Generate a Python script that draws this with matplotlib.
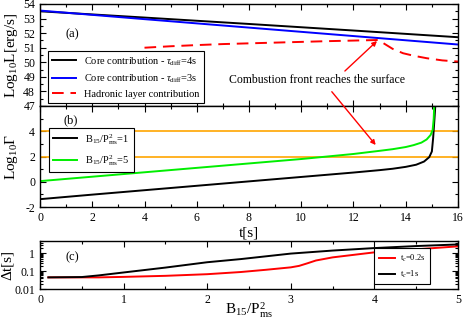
import matplotlib
matplotlib.use("Agg")
import matplotlib.pyplot as plt
from matplotlib.ticker import MultipleLocator, FixedLocator, FixedFormatter

plt.rcParams['font.family'] = ['Liberation Serif', 'DejaVu Serif']
plt.rcParams['mathtext.fontset'] = 'custom'
plt.rcParams['mathtext.rm'] = 'Liberation Serif'
plt.rcParams['mathtext.it'] = 'Liberation Serif:italic'
plt.rcParams['mathtext.bf'] = 'Liberation Serif:bold'

# ---------------- data ----------------
# panel (a)
t_core = [0, 4, 8, 12, 16]
logL_core4 = [53.5, 53.07, 52.63, 52.18, 51.72]
logL_core3 = [53.55, 52.96, 52.38, 51.8, 51.22]
t_had = [4, 5, 6, 7, 8, 9, 10, 11, 12, 12.95, 13.2, 13.5, 13.9, 14.3, 14.8, 15.4, 16]
logL_had = [51.0, 51.1, 51.18, 51.25, 51.3, 51.35, 51.4, 51.45, 51.49, 51.53,
            51.25, 50.92, 50.62, 50.45, 50.28, 50.13, 50.05]

# panel (b)
t_b1 = [0, 2, 4, 6, 8, 10, 12, 13, 13.5, 14, 14.4, 14.7, 14.9, 15.0, 15.05, 15.1, 15.13]
logG_b1 = [-1.38, -1.02, -0.67, -0.32, 0.03, 0.38, 0.73, 0.92, 1.03, 1.18, 1.35,
           1.6, 1.95, 2.4, 3.5, 5.0, 6.0]
t_b5 = [0, 2, 4, 6, 8, 10, 12, 13, 13.5, 14, 14.3, 14.6, 14.8, 14.95, 15.03, 15.07, 15.09]
logG_b5 = [0.05, 0.4, 0.75, 1.1, 1.45, 1.8, 2.2, 2.45, 2.58, 2.75, 2.9, 3.1, 3.35,
           3.7, 4.1, 5.0, 6.0]
logG_levels = [2, 4]

# panel (c)
B_red = [0.1, 0.5, 0.7, 1.0, 1.5, 2.0, 2.4, 2.7, 3.0, 3.1, 3.2, 3.3, 3.5, 4.0, 4.5, 5.0]
dt_red = [0.045, 0.045, 0.045, 0.048, 0.055, 0.068, 0.09, 0.12, 0.165, 0.2, 0.28,
          0.4, 0.6, 1.15, 1.7, 2.5]
B_blk = [0.1, 0.5, 0.7, 1.0, 1.5, 2.0, 2.4, 3.0, 3.5, 4.0, 4.5, 5.0]
dt_blk = [0.045, 0.047, 0.058, 0.085, 0.16, 0.32, 0.48, 0.98, 1.45, 2.0, 2.6, 3.2]

yt_c = [0.01, 0.1, 1]
yt_c_labels = ['0.01', '0.1', '1']

# ---------------- figure ----------------
W, H = 464, 327
fig = plt.figure(figsize=(W / 100, H / 100), dpi=100)

def box(x0, y0, x1, y1):
    return [x0 / W, 1 - y1 / H, (x1 - x0) / W, (y1 - y0) / H]

ax_a = fig.add_axes(box(40, 4, 458, 106))
ax_b = fig.add_axes(box(40, 106, 458, 207))
ax_c = fig.add_axes(box(40, 241, 458, 289))

tick_fs = 8.5
lab_fs = 11
leg_fs = 7.5

for ax in (ax_a, ax_b, ax_c):
    ax.tick_params(which='both', direction='in', top=True, right=True,
                   labelsize=tick_fs, width=0.8)
    ax.tick_params(which='major', length=4)
    ax.tick_params(which='minor', length=2.5)
    for s in ax.spines.values():
        s.set_linewidth(1.0)

# (a)
ax_a.plot(t_core, logL_core4, color='black', lw=1.4, label=r'Core contribution - $\tau_{\mathrm{diff}}$=4s')
ax_a.plot(t_core, logL_core3, color='blue', lw=1.4, label=r'Core contribution - $\tau_{\mathrm{diff}}$=3s')
ax_a.plot(t_had, logL_had, color='red', lw=1.4, ls=(0, (6, 3.5)), label='Hadronic layer contribution')
ax_a.set_xlim(0, 16)
ax_a.set_ylim(47, 54)
ax_a.xaxis.set_major_locator(MultipleLocator(2))
ax_a.xaxis.set_minor_locator(MultipleLocator(1))
ax_a.yaxis.set_major_locator(MultipleLocator(1))
ax_a.yaxis.set_minor_locator(MultipleLocator(0.5))
ax_a.tick_params(labelbottom=False)
ax_a.set_ylabel(r'Log$_{10}$L[erg/s]', fontsize=lab_fs)
ax_a.yaxis.set_label_coords(-0.047, 0.5)
ax_a.text(0.06, 0.70, '(a)', transform=ax_a.transAxes, fontsize=9, va='center')
leg_a = ax_a.legend(loc='lower left', bbox_to_anchor=(0.019, 0.03), fontsize=leg_fs,
                    frameon=True, fancybox=False, edgecolor='black', framealpha=1,
                    handlelength=2.3, borderpad=0.4, labelspacing=0.45, borderaxespad=0)
leg_a.get_frame().set_linewidth(0.8)

ax_a.text(7.23, 48.78, 'Combustion front reaches the surface', fontsize=8.5,
          va='center', ha='left')
ax_a.annotate('', xy=(12.9, 51.46), xytext=(11.67, 49.4),
              arrowprops=dict(arrowstyle='-|>', color='red', lw=1.0,
                              mutation_scale=7, shrinkA=0, shrinkB=0))

# (b)
for lv in logG_levels:
    ax_b.axhline(lv, color='orange', lw=1.2)
ax_b.plot(t_b1, logG_b1, color='black', lw=1.4, label=r'B$_{15}$/P$^2_{\mathrm{ms}}$=1')
ax_b.plot(t_b5, logG_b5, color='#00ee00', lw=1.4, label=r'B$_{15}$/P$^2_{\mathrm{ms}}$=5')
ax_b.set_xlim(0, 16)
ax_b.set_ylim(-2, 6)
ax_b.xaxis.set_major_locator(MultipleLocator(2))
ax_b.xaxis.set_minor_locator(MultipleLocator(1))
ax_b.yaxis.set_major_locator(FixedLocator([-2, 0, 2, 4, 6]))
ax_b.yaxis.set_major_formatter(FixedFormatter(['-2', '0', '2', '4', '']))
ax_b.yaxis.set_minor_locator(MultipleLocator(1))
ax_b.set_ylabel(r'Log$_{10}\Gamma$', fontsize=lab_fs)
ax_b.yaxis.set_label_coords(-0.047, 0.5)
ax_b.set_xlabel('t[s]', fontsize=lab_fs)
ax_b.xaxis.set_label_coords(0.5, -0.19)
ax_b.text(0.057, 0.86, '(b)', transform=ax_b.transAxes, fontsize=9, va='center')
leg_b = ax_b.legend(loc='lower left', bbox_to_anchor=(0.0215, 0.347), fontsize=leg_fs,
                    frameon=True, fancybox=False, edgecolor='black', framealpha=1,
                    handlelength=2.3, borderpad=0.4, labelspacing=0.6, borderaxespad=0)
leg_b.get_frame().set_linewidth(0.8)

ax_b.annotate('', xy=(12.85, 2.91), xycoords=ax_b.transData,
              xytext=(11.17, 47.98), textcoords=ax_a.transData,
              arrowprops=dict(arrowstyle='-|>', color='red', lw=1.0,
                              mutation_scale=7, shrinkA=0, shrinkB=0),
              annotation_clip=False)

# (c)
ax_c.plot(B_red, dt_red, color='red', lw=1.4, label=r't$_c$=0.2s')
ax_c.plot(B_blk, dt_blk, color='black', lw=1.4, label=r't$_c$=1s')
ax_c.set_yscale('log')
ax_c.set_xlim(0, 5)
ax_c.set_ylim(0.01, 5)
ax_c.xaxis.set_major_locator(MultipleLocator(1))
ax_c.xaxis.set_minor_locator(MultipleLocator(0.5))
ax_c.yaxis.set_major_locator(FixedLocator(yt_c))
ax_c.yaxis.set_major_formatter(FixedFormatter(yt_c_labels))
ax_c.set_ylabel('Δt[s]', fontsize=lab_fs)
ax_c.yaxis.set_label_coords(-0.062, 0.5)
ax_c.set_xlabel(r'B$_{15}$/P$^2_{\mathrm{ms}}$', fontsize=lab_fs)
ax_c.xaxis.set_label_coords(0.5, -0.25)
ax_c.text(0.06, 0.667, '(c)', transform=ax_c.transAxes, fontsize=9, va='center')
leg_c = ax_c.legend(loc='lower left', bbox_to_anchor=(0.8, 0.104), fontsize=6,
                    frameon=True, fancybox=False, edgecolor='black', framealpha=1,
                    handlelength=2.0, borderpad=0.5, labelspacing=0.6, borderaxespad=0,
                    handletextpad=0.6)
leg_c.get_frame().set_linewidth(0.8)

fig.savefig('out.png', dpi=100)
